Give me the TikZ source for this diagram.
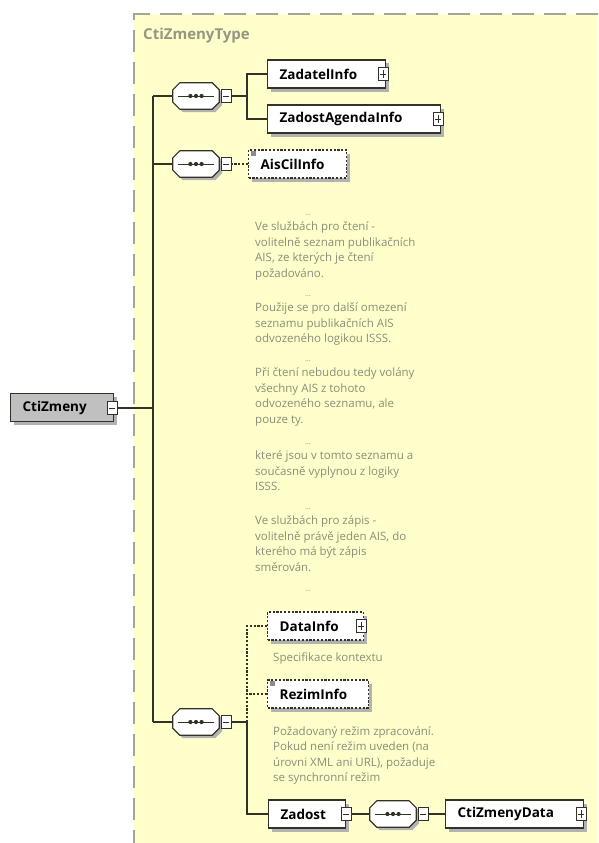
\documentclass[tikz,border=0pt]{standalone}
\usepackage{fontspec}
\setmainfont{Open Sans}
\usetikzlibrary{shadows}
\definecolor{bgyel}{RGB}{255,255,204}
\definecolor{bordgray}{RGB}{165,165,150}
\definecolor{linec}{RGB}{50,50,40}
\definecolor{annot}{RGB}{140,140,120}
\definecolor{elgray}{RGB}{192,192,192}
\definecolor{typec}{RGB}{150,150,130}
\newcommand\seqshape[1]{%
  \fill[black!30] ([shift={(10pt,-3pt)}]#1.north west) -- ([shift={(-4pt,-3pt)}]#1.north east) -- ([shift={(3pt,-10pt)}]#1.north east) -- ([shift={(3pt,4pt)}]#1.south east) -- ([shift={(-4pt,-3pt)}]#1.south east) -- ([shift={(10pt,-3pt)}]#1.south west) -- ([shift={(3pt,4pt)}]#1.south west) -- ([shift={(3pt,-10pt)}]#1.north west) -- cycle;
  \filldraw[fill=white, draw=linec, line width=1.2pt] ([xshift=7pt]#1.north west) -- ([xshift=-7pt]#1.north east) -- ([yshift=-7pt]#1.north east) -- ([yshift=7pt]#1.south east) -- ([xshift=-7pt]#1.south east) -- ([xshift=7pt]#1.south west) -- ([yshift=7pt]#1.south west) -- ([yshift=-7pt]#1.north west) -- cycle;
  \draw[line width=1pt, linec] ([xshift=5pt]#1.west) -- ([xshift=-5pt]#1.east);
  \fill[linec] (#1.center) circle (2.1pt);
  \fill[linec] ([xshift=-5.6pt]#1.center) circle (2.1pt);
  \fill[linec] ([xshift=5.6pt]#1.center) circle (2.1pt);}
\begin{document}
\begin{tikzpicture}[x=1pt,y=-1pt,
  elem/.style={draw=linec, line width=1.2pt, fill=white, rectangle, minimum height=28pt,
    inner xsep=12pt, inner ysep=0pt, align=left, anchor=west,
    font=\bfseries\fontsize{13.5}{15}\selectfont,
    drop shadow={shadow xshift=3.5pt, shadow yshift=-3.5pt, fill=black!30, opacity=1}},
  optelem/.style={elem, dash pattern=on 2.2pt off 1.6pt, line width=1.3pt},
  pmbase/.style={draw=linec, fill=white, rectangle, minimum width=10pt, minimum height=13pt,
    inner sep=0pt, line width=0.8pt},
  minusbox/.style={pmbase, path picture={
    \draw[line width=0.8pt,linec] ([xshift=2pt]path picture bounding box.west) -- ([xshift=-2pt]path picture bounding box.east);}},
  plusbox/.style={pmbase, path picture={
    \draw[line width=0.8pt,linec] ([xshift=2pt]path picture bounding box.west) -- ([xshift=-2pt]path picture bounding box.east);
    \draw[line width=0.8pt,linec] ([yshift=2.5pt]path picture bounding box.south) -- ([yshift=-2.5pt]path picture bounding box.north);}},
  seqnode/.style={rectangle, minimum width=46pt, minimum height=26pt, inner sep=0pt},
  icon/.style={fill=black!45, minimum width=5pt, minimum height=5pt, inner sep=0pt},
  conn/.style={draw=linec, line width=1.2pt},
  optconn/.style={conn, dash pattern=on 2.2pt off 1.6pt, line width=1.3pt},
  ann/.style={anchor=base west, inner sep=0pt, font=\fontsize{11.5}{13}\selectfont, text=annot},
  dots/.style={anchor=base, inner sep=0pt, font=\fontsize{7}{8}\selectfont, text=annot}
]
\useasboundingbox (0,0) rectangle (598,843);
\fill[white] (0,0) rectangle (598,843);
\fill[bgyel] (134,14) rectangle (598,843);
\draw[bordgray, line width=1.6pt, dash pattern=on 22pt off 10pt] (598,14) -- (134,14) -- (134,843);
\node[anchor=base west, inner sep=0pt, font=\bfseries\fontsize{15}{17}\selectfont, text=typec] (type) at (143,40) {CtiZmenyType};

% junctions
\coordinate (j1) at (153,96);
\coordinate (j2) at (153,164);
\coordinate (j3) at (153,722);
\coordinate (b1) at (247,96);
\coordinate (b3) at (247,722);

% sequence compositors (shapes drawn later)
\node[seqnode] (s1) at (196,96) {};
\node[seqnode] (s2) at (196,164) {};
\node[seqnode] (s3) at (196,722) {};
\node[seqnode] (s4) at (393,814) {};

% root element
\node[elem, fill=elgray, text width=79pt] (cz) at (10,407.5) {CtiZmeny};
\node[minusbox] (czm) at (112,408) {};

% elements
\node[elem, text width=94pt] (zi) at (267,74) {ZadatelInfo};
\node[plusbox] (zip) at (383,74) {};
\node[elem, text width=149pt] (zai) at (267,119) {ZadostAgendaInfo};
\node[plusbox] (zaip) at (438,119) {};
\node[optelem, text width=74pt] (ais) at (248,164) {AisCilInfo};
\node[icon] (aisi) at ([xshift=5pt,yshift=-4pt]ais.north west) {};
\node[optelem, text width=72pt] (di) at (267,626) {DataInfo};
\node[plusbox] (dip) at (361,626) {};
\node[optelem, text width=77pt] (ri) at (267,694) {RezimInfo};
\node[icon] (rii) at ([xshift=5pt,yshift=-4pt]ri.north west) {};
\node[elem, text width=53pt] (zad) at (268,814) {Zadost};
\node[minusbox] (zadm) at (346,814) {};
\node[elem, text width=114pt] (czd) at (445,814) {CtiZmenyData};
\node[plusbox] (czdp) at (581,814) {};

% connectors
\draw[conn] (czm.east) -- (czm.east -| j1);
\draw[conn] (j1) -- (j3);
\draw[conn] (j1) -- (s1.west);
\draw[conn] (s1.east) -- (b1);
\draw[conn] (b1) |- (zi.west);
\draw[conn] (b1) |- (zai.west);
\draw[conn] (j2) -- (s2.west);
\draw[optconn] (s2.east) -- (ais.west);
\draw[conn] (j3) -- (s3.west);
\draw[conn] (s3.east) -- (b3);
\draw[optconn] (b3) |- (di.west);
\draw[optconn] (b3) |- (ri.west);
\draw[conn] (b3) |- (zad.west);
\draw[conn] (zadm.east) -- (s4.west);
\draw[conn] (s4.east) -- (czd.west);

% compositor shapes and their minus boxes
\seqshape{s1}
\node[minusbox] (s1m) at (226,96) {};
\seqshape{s2}
\node[minusbox] (s2m) at (226,164) {};
\seqshape{s3}
\node[minusbox] (s3m) at (226,722) {};
\seqshape{s4}
\node[minusbox] (s4m) at (423,814) {};

% annotation of AisCilInfo
\node[dots] (d1) at (308,215) {...};
\foreach \yy/\tx [count=\i] in {
  230.5/{Ve službách pro čtení -},
  246/{volitelně seznam publikačních},
  261.5/{AIS, ze kterých je čtení},
  277/{požadováno.}} \node[ann] (p1l\i) at (255,\yy) {\tx};
\node[dots] (d2) at (308,296) {...};
\foreach \yy/\tx [count=\i] in {
  311.5/{Použije se pro další omezení},
  327/{seznamu publikačních AIS},
  342.5/{odvozeného logikou ISSS.}} \node[ann] (p2l\i) at (255,\yy) {\tx};
\node[dots] (d3) at (308,361) {...};
\foreach \yy/\tx [count=\i] in {
  376.5/{Při čtení nebudou tedy volány},
  392/{všechny AIS z tohoto},
  407.5/{odvozeného seznamu, ale},
  423/{pouze ty.}} \node[ann] (p3l\i) at (255,\yy) {\tx};
\node[dots] (d4) at (308,444) {...};
\foreach \yy/\tx [count=\i] in {
  459.5/{které jsou v tomto seznamu a},
  475/{současně vyplynou z logiky},
  490.5/{ISSS.}} \node[ann] (p4l\i) at (255,\yy) {\tx};
\node[dots] (d5) at (308,509) {...};
\foreach \yy/\tx [count=\i] in {
  524.5/{Ve službách pro zápis -},
  540/{volitelně právě jeden AIS, do},
  555.5/{kterého má být zápis},
  571/{směrován.}} \node[ann] (p5l\i) at (255,\yy) {\tx};
\node[dots] (d6) at (308,591) {...};

% other annotations
\node[ann] (dia) at (273,661) {Specifikace kontextu};
\foreach \yy/\tx [count=\i] in {
  735/{Požadovaný režim zpracování.},
  750.5/{Pokud není režim uveden (na},
  766/{úrovni XML ani URL), požaduje},
  781.5/{se synchronní režim}} \node[ann] (ral\i) at (273,\yy) {\tx};
\end{tikzpicture}
\end{document}
